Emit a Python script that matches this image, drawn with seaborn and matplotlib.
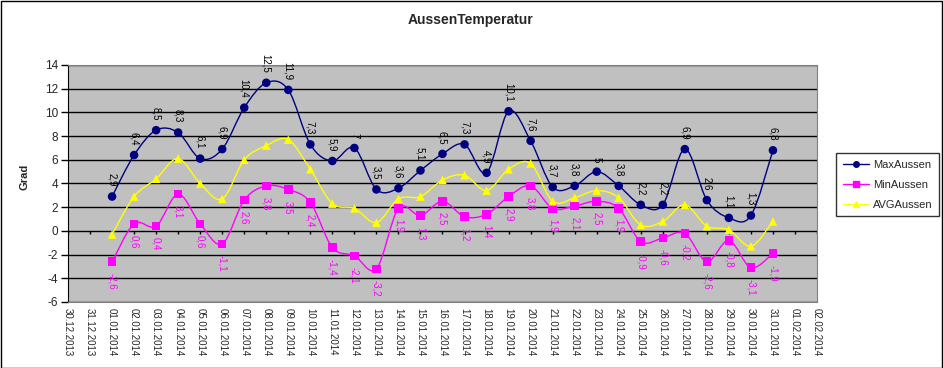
"""AussenTemperatur - Januar 2014"""
# Imports
import pandas as pd
import matplotlib
matplotlib.use('Agg')
import matplotlib.pyplot as plt
import matplotlib.dates as mdates
from matplotlib.path import Path
from matplotlib.patches import PathPatch, Rectangle
from matplotlib.lines import Line2D
import seaborn as sns

# Data
days = pd.date_range('2014-01-01', '2014-01-31', freq='D')
max_aussen = [2.9, 6.4, 8.5, 8.3, 6.1, 6.9, 10.4, 12.5, 11.9, 7.3, 5.9, 7, 3.5, 3.6, 5.1, 6.5,
              7.3, 4.9, 10.1, 7.6, 3.7, 3.8, 5, 3.8, 2.2, 2.2, 6.9, 2.6, 1.1, 1.3, 6.8]
min_aussen = [-2.6, 0.6, 0.4, 3.1, 0.6, -1.1, 2.6, 3.8, 3.5, 2.4, -1.4, -2.1, -3.2, 1.9, 1.3, 2.5,
              1.2, 1.4, 2.9, 3.8, 1.9, 2.1, 2.5, 1.9, -0.9, -0.6, -0.2, -2.6, -0.8, -3.1, -1.9]
avg_aussen = [-0.3, 2.9, 4.4, 6.1, 4.0, 2.7, 6.0, 7.2, 7.7, 5.2, 2.3, 1.9, 0.7, 2.7, 2.9, 4.3,
              4.7, 3.4, 5.2, 5.7, 2.5, 2.8, 3.4, 2.8, 0.5, 0.8, 2.2, 0.4, 0.1, -1.3, 0.8]
tick_days = pd.date_range('2013-12-30', '2014-02-02', freq='D')

SERIES = ['MaxAussen', 'MinAussen', 'AVGAussen']
COLORS = {'MaxAussen': '#000080', 'MinAussen': '#FF00FF', 'AVGAussen': '#FFFF00'}
MARKERS = {'MaxAussen': 'o', 'MinAussen': 's', 'AVGAussen': '^'}

data = pd.DataFrame({'Datum': days, 'MaxAussen': max_aussen,
                     'MinAussen': min_aussen, 'AVGAussen': avg_aussen})
long = data.melt('Datum', var_name='Reihe', value_name='Grad')


def smooth_path(x, y):
    # Excel-style smoothed line: cubic bezier through the points
    verts = [(x[0], y[0])]
    codes = [Path.MOVETO]
    n = len(x)
    for i in range(n - 1):
        xa, ya = (x[i - 1], y[i - 1]) if i > 0 else (x[i], y[i])
        xb, yb = (x[i + 2], y[i + 2]) if i < n - 2 else (x[i + 1], y[i + 1])
        c1 = (x[i] + (x[i + 1] - xa) / 6, y[i] + (y[i + 1] - ya) / 6)
        c2 = (x[i + 1] - (xb - x[i]) / 6, y[i + 1] - (yb - y[i]) / 6)
        verts += [c1, c2, (x[i + 1], y[i + 1])]
        codes += [Path.CURVE4] * 3
    return Path(verts, codes)


sns.set_style('white')
plt.rcParams['font.family'] = ['Liberation Sans', 'DejaVu Sans']
plt.rcParams['axes.unicode_minus'] = False

fig = plt.figure(figsize=(9.43, 3.68), dpi=100)
ax = fig.add_axes([68 / 943, 1 - 302 / 368, 749 / 943, 237 / 368])
ax.set_facecolor('#C0C0C0')

sns.scatterplot(data=long, x='Datum', y='Grad', hue='Reihe', style='Reihe',
                palette=COLORS, markers=MARKERS, s=38, linewidth=0,
                legend=False, zorder=4, ax=ax)

xnum = mdates.date2num(days)
for name in SERIES:
    ax.add_patch(PathPatch(smooth_path(xnum, data[name].values), fill=False,
                           edgecolor=COLORS[name], lw=1, zorder=3))

# Data labels
for d, v in zip(days, max_aussen):
    ax.annotate(f'{v:g}'.replace('.', ','), (d, v), xytext=(0, 7), textcoords='offset points',
                rotation=-90, ha='center', va='bottom', fontsize=7, color='black', zorder=5)
for d, v in zip(days, min_aussen):
    ax.annotate(f'{v:g}'.replace('.', ','), (d, v), xytext=(0, -8), textcoords='offset points',
                rotation=-90, ha='center', va='top', fontsize=7, color='#FF00FF', zorder=5)

# Axes
ax.set_xlim(tick_days[0], tick_days[-1])
ax.set_ylim(-6, 14)
ax.set_yticks(range(-6, 15, 2))
ax.set_xticks(tick_days)
ax.xaxis.set_major_formatter(mdates.DateFormatter('%d.%m.%Y'))
ax.tick_params(axis='x', length=0, labelsize=7, labelrotation=-90, pad=4)
ax.tick_params(axis='y', length=5, width=1, color='black', labelsize=8.5, pad=2, left=True)
ax.yaxis.grid(True, color='black', lw=1)
ax.set_axisbelow(True)
ax.vlines(tick_days, -0.3, 0, color='black', lw=1, zorder=2)
ax.set_xlabel('')
ax.set_ylabel('')
for side in ['top', 'right', 'bottom']:
    ax.spines[side].set_color('#808080')
ax.spines['left'].set_color('black')

fig.text(471 / 943, 1 - 20 / 368, 'AussenTemperatur', ha='center', va='center',
         fontsize=10, fontweight='bold')
fig.text(25 / 943, 1 - 177 / 368, 'Grad', rotation=90, ha='center', va='center',
         fontsize=8, fontweight='bold')

handles = [Line2D([], [], color=COLORS[n], marker=MARKERS[n], markersize=4, lw=1) for n in SERIES]
leg = fig.legend(handles, SERIES, loc='upper left', bbox_to_anchor=(836 / 943, 1 - 153 / 368),
                 fontsize=8, frameon=True, fancybox=False, edgecolor='black',
                 handlelength=2.4, handletextpad=0.3, borderpad=0.6, labelspacing=0.9,
                 borderaxespad=0)
leg.get_frame().set_linewidth(1)

fig.patches.append(Rectangle((0.5 / 943, 0.5 / 368), 1 - 1.5 / 943, 1 - 1.5 / 368,
                             transform=fig.transFigure, fill=False, edgecolor='black', lw=1))

plt.savefig('out.png', dpi=100)
